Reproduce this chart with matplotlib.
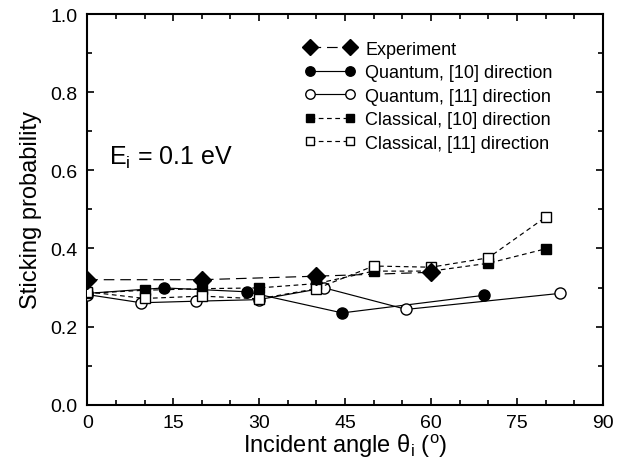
import numpy as np
import matplotlib
matplotlib.use('Agg')
import matplotlib.pyplot as plt
from matplotlib.ticker import MultipleLocator, FormatStrFormatter

plt.rcParams['font.family'] = ['Liberation Sans', 'DejaVu Sans']

# experiment
exp_x = [0, 20, 40, 60]
exp_y = [0.320, 0.320, 0.329, 0.339]
# quantum, [10]
q10_x = [0, 13.4, 27.9, 44.5, 69.2]
q10_y = [0.285, 0.299, 0.289, 0.235, 0.280]
# quantum, [11]
q11_x = [0, 9.4, 19.0, 29.9, 41.4, 55.7, 82.5]
q11_y = [0.282, 0.261, 0.265, 0.269, 0.299, 0.244, 0.285]
# classical, [10]
c10_x = [0, 10, 20, 30, 40, 50, 60, 70, 80]
c10_y = [0.285, 0.293, 0.297, 0.299, 0.310, 0.342, 0.342, 0.362, 0.399]
# classical, [11]
c11_x = [0, 10, 20, 30, 40, 50, 60, 70, 80]
c11_y = [0.289, 0.272, 0.278, 0.271, 0.297, 0.355, 0.352, 0.376, 0.480]

fig = plt.figure(figsize=(6.23, 4.64), dpi=100)
ax = fig.add_axes([0.140, 0.1256, 0.8277, 0.842])

lw = 0.85
ax.plot(exp_x, exp_y, 'k', linestyle=(0, (9, 5)), linewidth=lw, marker='D',
        markersize=9, label='Experiment', zorder=5)
ax.plot(q10_x, q10_y, 'k', linestyle='-', linewidth=lw, marker='o',
        markersize=8, label='Quantum, [10] direction', zorder=3)
ax.plot(q11_x, q11_y, 'k', linestyle='-', linewidth=lw, marker='o',
        markersize=8, markerfacecolor='white', label='Quantum, [11] direction', zorder=3)
ax.plot(c10_x, c10_y, 'k', linestyle=(0, (4, 3)), linewidth=lw, marker='s',
        markersize=7, label='Classical, [10] direction', zorder=4)
ax.plot(c11_x, c11_y, 'k', linestyle=(0, (4, 3)), linewidth=lw, marker='s',
        markersize=7, markerfacecolor='white', label='Classical, [11] direction', zorder=4)

ax.set_xlim(0, 90)
ax.set_ylim(0, 1)
ax.xaxis.set_major_locator(MultipleLocator(15))
ax.xaxis.set_minor_locator(MultipleLocator(5))
ax.yaxis.set_major_locator(MultipleLocator(0.2))
ax.yaxis.set_minor_locator(MultipleLocator(0.1))
ax.yaxis.set_major_formatter(FormatStrFormatter('%.1f'))
ax.tick_params(which='both', direction='in', top=True, right=True, width=1.2)
ax.tick_params(which='major', length=5, labelsize=14, pad=7)
ax.tick_params(which='minor', length=3.3)
for s in ax.spines.values():
    s.set_linewidth(1.5)

ax.set_xlabel(r'Incident angle $\mathregular{\theta_i}$ ($\mathregular{^o}$)', fontsize=17, labelpad=0)
ax.set_ylabel('Sticking probability', fontsize=17, labelpad=6)

ax.text(0.043, 0.617, r'E$\mathregular{_i}$ = 0.1 eV', transform=ax.transAxes, fontsize=18)

leg = ax.legend(loc='upper left', bbox_to_anchor=(0.422, 0.932), frameon=False, fontsize=13,
                numpoints=2, handlelength=2.8, handletextpad=0.55, labelspacing=0.36,
                borderaxespad=0, borderpad=0, markerscale=0.85)

fig.savefig('out.png', dpi=100)
